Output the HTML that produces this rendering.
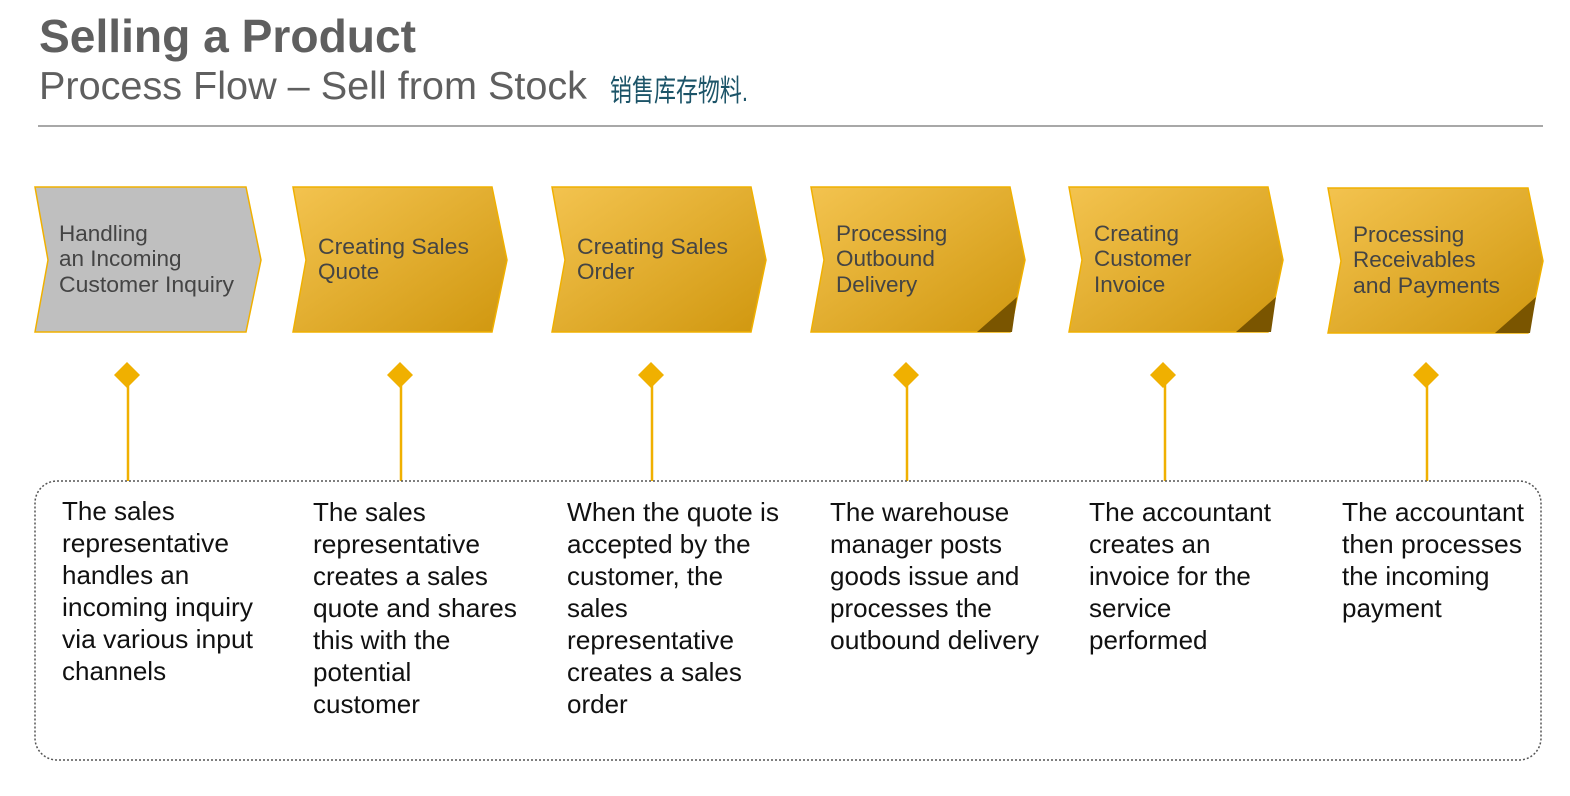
<!DOCTYPE html>
<html><head><meta charset="utf-8"><style>
html,body{margin:0;padding:0;background:#fff;}
svg{display:block;}
text{font-family:"Liberation Sans",Arial,sans-serif;}
</style></head><body>
<svg width="1570" height="796" viewBox="0 0 1570 796" xmlns="http://www.w3.org/2000/svg">
<defs>
<linearGradient id="g" x1="0" y1="0" x2="1" y2="1">
<stop offset="0" stop-color="#f3c34f"/><stop offset="1" stop-color="#d0970f"/>
</linearGradient>
</defs>
<text x="39" y="52" font-size="46" font-weight="bold" fill="#5f5f5f" textLength="377" lengthAdjust="spacingAndGlyphs">Selling a Product</text>
<text x="39" y="99" font-size="39" fill="#5f5f5f" textLength="548" lengthAdjust="spacingAndGlyphs">Process Flow – Sell from Stock</text>
<text x="610" y="101" font-size="24" fill="#1c5468" font-family="'Noto Serif CJK SC','WenQuanYi Zen Hei',serif" transform="translate(610,101) scale(1,1.25) translate(-610,-101)" textLength="138" lengthAdjust="spacingAndGlyphs">销售库存物料.</text>
<rect x="38" y="125" width="1505" height="2" fill="#a8a8a8"/>

<g stroke="#f0b000" stroke-width="1.5">
<polygon points="35,187 246,187 261,260 246,332 35,332 48,260" fill="#bfbfbf"/>
<polygon points="293,187 492,187 507,260 492,332 293,332 306,260" fill="url(#g)"/>
<polygon points="552,187 751,187 766,260 751,332 552,332 565,260" fill="url(#g)"/>
<polygon points="811,187 1010,187 1025,260 1010,332 811,332 824,260" fill="url(#g)"/>
<polygon points="1069,187 1268,187 1283,260 1268,332 1069,332 1082,260" fill="url(#g)"/>
<polygon points="1328,188 1528,188 1543,261 1528,333 1328,333 1341,261" fill="url(#g)"/>
</g>
<polygon points="1017,297 1012,332 977,332" fill="#7a5500"/>
<polygon points="1276,297 1271,332 1236,332" fill="#7a5500"/>
<polygon points="1536,297 1530,333 1495,333" fill="#7a5500"/>

<g font-size="22.5" fill="#444">
<text x="59" y="241">Handling</text><text x="59" y="266">an Incoming</text><text x="59" y="292" textLength="175" lengthAdjust="spacingAndGlyphs">Customer Inquiry</text>
<text x="318" y="254" textLength="151" lengthAdjust="spacingAndGlyphs">Creating Sales</text><text x="318" y="279">Quote</text>
<text x="577" y="254" textLength="151" lengthAdjust="spacingAndGlyphs">Creating Sales</text><text x="577" y="279">Order</text>
<text x="836" y="241">Processing</text><text x="836" y="266">Outbound</text><text x="836" y="292">Delivery</text>
<text x="1094" y="241">Creating</text><text x="1094" y="266">Customer</text><text x="1094" y="292">Invoice</text>
<text x="1353" y="242">Processing</text><text x="1353" y="267">Receivables</text><text x="1353" y="293" textLength="147" lengthAdjust="spacingAndGlyphs">and Payments</text>
</g>

<g stroke="#f0b000" stroke-width="2.5">
<line x1="128" y1="375" x2="128" y2="481"/><line x1="401" y1="375" x2="401" y2="481"/>
<line x1="652" y1="375" x2="652" y2="481"/><line x1="907" y1="375" x2="907" y2="481"/>
<line x1="1165" y1="375" x2="1165" y2="481"/><line x1="1427" y1="375" x2="1427" y2="481"/>
</g>
<g fill="#f0b000">
<polygon points="127,362 140,375 127,388 114,375"/><polygon points="400,362 413,375 400,388 387,375"/>
<polygon points="651,362 664,375 651,388 638,375"/><polygon points="906,362 919,375 906,388 893,375"/>
<polygon points="1163,362 1176,375 1163,388 1150,375"/><polygon points="1426,362 1439,375 1426,388 1413,375"/>
</g>

<rect x="35" y="481" width="1506" height="279" rx="22" ry="22" fill="none" stroke="#555" stroke-width="1.5" stroke-dasharray="2,2"/>

<g font-size="26" fill="#111">
<text x="62" y="520">The sales</text><text x="62" y="552" textLength="167" lengthAdjust="spacingAndGlyphs">representative</text><text x="62" y="584">handles an</text><text x="62" y="616" textLength="191" lengthAdjust="spacingAndGlyphs">incoming inquiry</text><text x="62" y="648" textLength="191" lengthAdjust="spacingAndGlyphs">via various input</text><text x="62" y="680">channels</text>
<text x="313" y="521">The sales</text><text x="313" y="553" textLength="167" lengthAdjust="spacingAndGlyphs">representative</text><text x="313" y="585">creates a sales</text><text x="313" y="617" textLength="204" lengthAdjust="spacingAndGlyphs">quote and shares</text><text x="313" y="649">this with the</text><text x="313" y="681">potential</text><text x="313" y="713">customer</text>
<text x="567" y="521" textLength="212" lengthAdjust="spacingAndGlyphs">When the quote is</text><text x="567" y="553">accepted by the</text><text x="567" y="585">customer, the</text><text x="567" y="617">sales</text><text x="567" y="649" textLength="167" lengthAdjust="spacingAndGlyphs">representative</text><text x="567" y="681">creates a sales</text><text x="567" y="713">order</text>
<text x="830" y="521">The warehouse</text><text x="830" y="553">manager posts</text><text x="830" y="585">goods issue and</text><text x="830" y="617">processes the</text><text x="830" y="649" textLength="209" lengthAdjust="spacingAndGlyphs">outbound delivery</text>
<text x="1089" y="521" textLength="182" lengthAdjust="spacingAndGlyphs">The accountant</text><text x="1089" y="553">creates an</text><text x="1089" y="585">invoice for the</text><text x="1089" y="617">service</text><text x="1089" y="649">performed</text>
<text x="1342" y="521" textLength="182" lengthAdjust="spacingAndGlyphs">The accountant</text><text x="1342" y="553" textLength="180" lengthAdjust="spacingAndGlyphs">then processes</text><text x="1342" y="585">the incoming</text><text x="1342" y="617">payment</text>
</g>
</svg>
</body></html>
